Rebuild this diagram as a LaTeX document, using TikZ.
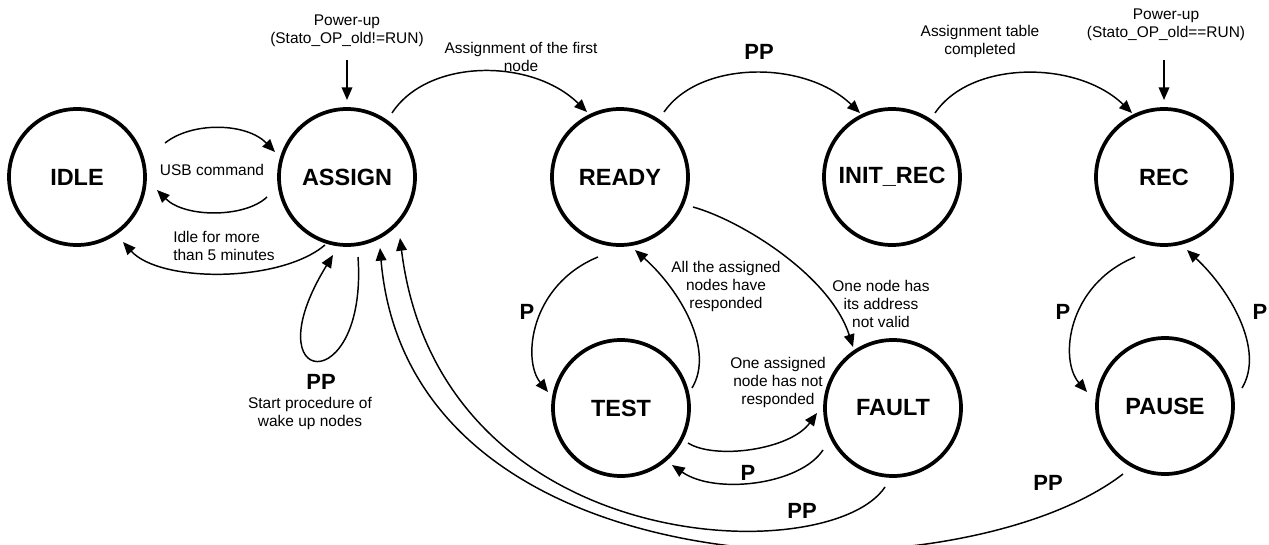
\documentclass[tikz,border=0pt]{standalone}
\usepackage{fontspec}
\setmainfont{Liberation Sans}
\usetikzlibrary{arrows.meta,calc}
\begin{document}
\begin{tikzpicture}[x=0.75pt,y=-0.75pt,
  state/.style={circle,draw,line width=2.8pt,minimum size=102pt,inner sep=0pt,font=\fontsize{17.6}{20}\selectfont\bfseries},
  edge/.style={line width=1.1pt,-{Triangle[length=9.5pt,width=8pt]}},
  lbl/.style={font=\fontsize{11.6}{13.5}\selectfont,align=center,inner sep=0pt},
  plbl/.style={font=\fontsize{16.5}{18}\selectfont\bfseries,inner sep=0pt}]
\useasboundingbox (0,0) rectangle (1269,545);
% states
\node[state] (idle) at (77,177) {IDLE};
\node[state] (assign) at (347,177) {ASSIGN};
\node[state] (ready) at (620,177) {READY};
\node[state] (initrec) at (892,177) {INIT\_REC};
\node[state] (rec) at (1164,177) {REC};
\node[state] (test) at (621,408) {TEST};
\node[state] (fault) at (893,408) {FAULT};
\node[state] (pause) at (1165,406) {PAUSE};
% labels
\node[lbl] (lusb) at (212,170) {USB command};
\node[lbl,align=left,anchor=west] (lidle) at (173,246) {Idle for more\\than 5 minutes};
\node[lbl] (pu1) at (347,31) {Power-up\\(Stato\_OP\_old!=RUN)};
\node[lbl] (pu2) at (1166,25) {Power-up\\(Stato\_OP\_old==RUN)};
\node[lbl] (lfirst) at (521,57) {Assignment of the first\\node};
\node[plbl] (lpp1) at (759,52) {PP};
\node[lbl] (ltable) at (980,42) {Assignment table\\completed};
\node[plbl] (lp1) at (527,312) {P};
\node[lbl] (lall) at (726,287) {All the assigned\\nodes have\\responded};
\node[lbl] (lnotvalid) at (881,304) {One node has\\its address\\not valid};
\node[lbl] (lnotresp) at (778,382) {One assigned\\node has not\\responded};
\node[plbl] (lp2) at (748,473) {P};
\node[plbl] (lpp2) at (802,511) {PP};
\node[plbl] (lpp3) at (1048,483) {PP};
\node[plbl] (lp3) at (1063,312) {P};
\node[plbl] (lp4) at (1260,312) {P};
\node[plbl] (lpp4) at (321,382) {PP};
\node[lbl] (lwake) at (310,413) {Start procedure of\\wake up nodes};
% connectors
\draw[edge] ($(idle.center)+(88,-34)$) .. controls (193,121) and (247,123) .. ($(assign.center)+(-72,-25)$);
\draw[edge] ($(assign.center)+(-80,20)$) .. controls (245,218) and (185,218) .. ($(idle.center)+(80,13)$);
\draw[edge] ($(assign.center)+(-22,68)$) .. controls (280,283) and (160,283) .. ($(idle.center)+(46,65)$);
\draw[edge] ($(assign.center)+(0,-117)$) -- ($(assign.center)+(0,-77)$);
\draw[edge] ($(rec.center)+(0,-117)$) -- ($(rec.center)+(0,-77)$);
\draw[edge] ($(assign.center)+(45,-64)$) .. controls (428,58) and (532,58) .. ($(ready.center)+(-33,-65)$);
\draw[edge] ($(ready.center)+(44,-65)$) .. controls (700,60) and (805,60) .. ($(initrec.center)+(-32,-64)$);
\draw[edge] ($(initrec.center)+(43,-64)$) .. controls (971,60) and (1077,60) .. ($(rec.center)+(-32,-64)$);
\draw[edge] ($(ready.center)+(-22,80)$) .. controls (530,285) and (522,360) .. ($(test.center)+(-73,-16)$);
\draw[edge] ($(test.center)+(71,-20)$) .. controls (715,350) and (680,290) .. ($(ready.center)+(15,73)$);
\draw[edge] ($(ready.center)+(73,30)$) .. controls (740,220) and (830,275) .. ($(fault.center)+(-40,-61)$);
\draw[edge] ($(test.center)+(67,35)$) .. controls (715,460) and (790,450) .. ($(fault.center)+(-76,5)$);
\draw[edge] ($(fault.center)+(-70,42)$) .. controls (800,485) and (715,495) .. ($(test.center)+(51,57)$);
\draw[edge] ($(fault.center)+(-8,79)$) .. controls (830,570) and (440,560) .. ($(assign.center)+(53,61)$);
\draw[edge] ($(pause.center)+(-42,68)$) .. controls (960,600) and (410,600) .. ($(assign.center)+(33,71)$);
\draw[edge] ($(rec.center)+(-29,80)$) .. controls (1067,285) and (1059,360) .. ($(pause.center)+(-78,-14)$);
\draw[edge] ($(pause.center)+(77,-18)$) .. controls (1265,350) and (1230,290) .. ($(rec.center)+(23,73)$);
\draw[edge] ($(assign.center)+(11,80)$) .. controls (368,400) and (250,390) .. ($(assign.center)+(-14,78)$);
\end{tikzpicture}
\end{document}
